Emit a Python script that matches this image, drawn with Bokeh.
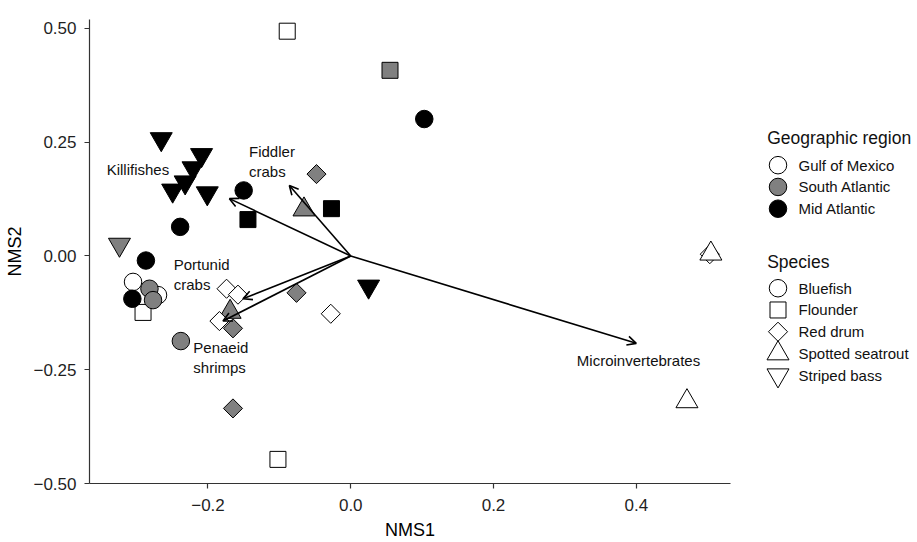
import math
from bokeh.plotting import figure
from bokeh.models import ColumnDataSource, Range1d, FixedTicker, Arrow, OpenHead, CustomJSTickFormatter
from bokeh.layouts import row
from bokeh.core.properties import value
from bokeh.embed import file_html
from bokeh.resources import INLINE

# ---------------- data ----------------
species_names = ["Bluefish", "Flounder", "Red drum", "Spotted seatrout", "Striped bass"]
region_names = ["Gulf of Mexico", "South Atlantic", "Mid Atlantic"]

pt_species = (["Flounder"] * 6 + ["Red drum"] * 6 + ["Spotted seatrout"] * 2 + ["Red drum"] * 3
              + ["Bluefish"] * 10 + ["Striped bass"] * 8 + ["Spotted seatrout"] * 2)
pt_region = ["Gulf of Mexico", "South Atlantic", "Mid Atlantic", "Mid Atlantic", "Gulf of Mexico", "Gulf of Mexico",
             "South Atlantic", "South Atlantic", "Gulf of Mexico", "Gulf of Mexico", "Gulf of Mexico", "South Atlantic",
             "South Atlantic", "South Atlantic",
             "Gulf of Mexico", "South Atlantic", "Gulf of Mexico",
             "Gulf of Mexico", "Gulf of Mexico", "South Atlantic", "South Atlantic", "South Atlantic",
             "Mid Atlantic", "Mid Atlantic", "Mid Atlantic", "Mid Atlantic", "Mid Atlantic",
             "Mid Atlantic", "Mid Atlantic", "Mid Atlantic", "Mid Atlantic", "Mid Atlantic", "Mid Atlantic",
             "Mid Atlantic", "South Atlantic",
             "Gulf of Mexico", "Gulf of Mexico"]
pt_x = [-0.089, 0.055, -0.027, -0.144, -0.291, -0.102,
        -0.048, -0.076, -0.028, -0.174, -0.158, -0.165,
        -0.0655, -0.169,
        -0.184, -0.165, 0.503,
        -0.305, -0.270, -0.282, -0.277, -0.238, -0.306, -0.287, -0.239, -0.150, 0.103,
        -0.2655, -0.209, -0.221, -0.232, -0.2495, -0.201, 0.025, -0.324,
        0.5045, 0.471]
pt_y = [0.494, 0.408, 0.104, 0.080, -0.124, -0.447,
        0.180, -0.081, -0.127, -0.072, -0.085, -0.159,
        0.102, -0.123,
        -0.143, -0.335, 0.004,
        -0.057, -0.086, -0.072, -0.097, -0.187, -0.094, -0.010, 0.064, 0.144, 0.301,
        0.257, 0.222, 0.193, 0.162, 0.144, 0.138, -0.067, 0.025,
        0.005, -0.3195]

vector_names = ["Killifishes", "Fiddler\ncrabs", "Portunid\ncrabs", "Penaeid\nshrimps", "Microinvertebrates"]
vector_x = [-0.170, -0.086, -0.151, -0.179, 0.400]
vector_y = [0.126, 0.155, -0.094, -0.143, -0.192]
vlabel_x = [-0.342, -0.1425, -0.248, -0.2206, 0.3167]
vlabel_y = [0.190, 0.208, -0.0406, -0.2234, -0.229]

x_ticks = [-0.2, 0.0, 0.2, 0.4]
y_ticks = [-0.5, -0.25, 0.0, 0.25, 0.5]

# ---------------- styles ----------------
FONT = "Liberation Sans"
fill_map = {"Gulf of Mexico": "#ffffff", "South Atlantic": "#808080", "Mid Atlantic": "#000000"}
marker_map = {"Bluefish": "circle", "Flounder": "square", "Red drum": "square",
              "Spotted seatrout": "triangle", "Striped bass": "inverted_triangle"}
angle_map = {"Bluefish": 0.0, "Flounder": 0.0, "Red drum": math.pi / 4,
             "Spotted seatrout": 0.0, "Striped bass": 0.0}
size_map = {"Bluefish": 17.5, "Flounder": 16, "Red drum": 13.5,
            "Spotted seatrout": 22, "Striped bass": 22}

src = ColumnDataSource(dict(
    x=pt_x, y=pt_y,
    marker=[marker_map[s] for s in pt_species],
    angle=[angle_map[s] for s in pt_species],
    size=[size_map[s] for s in pt_species],
    fill=[fill_map[r] for r in pt_region],
))

H = 542
TOP, BOTTOM = 19, 58
p = figure(width=743, height=H, output_backend="svg", toolbar_location=None,
           x_range=Range1d(-0.366, 0.532), y_range=Range1d(-0.5, 0.5197),
           min_border_left=89, min_border_right=13, min_border_top=TOP, min_border_bottom=BOTTOM)
p.grid.visible = False
p.outline_line_color = None
p.background_fill_color = "white"
p.border_fill_color = "white"

for ax in (p.xaxis[0], p.yaxis[0]):
    ax.axis_line_color = "#333333"
    ax.axis_line_width = 1.2
    ax.major_tick_line_color = "#333333"
    ax.major_tick_line_width = 1.2
    ax.major_tick_out = 5
    ax.major_tick_in = 0
    ax.minor_tick_line_color = None
    ax.major_label_text_font = FONT
    ax.major_label_text_font_size = "17px"
    ax.major_label_text_color = "#1f1f1f"
    ax.axis_label_text_font = FONT
    ax.axis_label_text_font_size = "18px"
    ax.axis_label_text_font_style = "normal"
    ax.axis_label_text_color = "#000000"

p.xaxis.ticker = FixedTicker(ticks=x_ticks)
p.yaxis.ticker = FixedTicker(ticks=y_ticks)
p.xaxis.formatter = CustomJSTickFormatter(code="return (tick < -1e-9 ? '\u2212' : '') + Math.abs(tick).toFixed(1);")
p.yaxis.formatter = CustomJSTickFormatter(code="return (tick < -1e-9 ? '\u2212' : '') + Math.abs(tick).toFixed(2);")
p.xaxis.axis_label = "NMS1"
p.yaxis.axis_label = "NMS2"
p.xaxis.major_label_standoff = 10
p.xaxis.axis_label_standoff = 6
p.yaxis.major_label_standoff = 8
p.yaxis.axis_label_standoff = 5

p.scatter(x="x", y="y", source=src, marker="marker", size="size", angle="angle",
          fill_color="fill", line_color="black", line_width=1)

asrc = ColumnDataSource(dict(x0=[0.0] * len(vector_x), y0=[0.0] * len(vector_y), x1=vector_x, y1=vector_y))
p.add_layout(Arrow(source=asrc, x_start="x0", y_start="y0", x_end="x1", y_end="y1",
                   line_color="black", line_width=1.6,
                   end=OpenHead(size=9, line_color="black", line_width=1.6)))

p.text(x=vlabel_x, y=vlabel_y, text=vector_names, text_font=value(FONT), text_font_size="15px",
       text_align="left", text_baseline="middle", text_color="#111111", text_line_height=1.2)

# ---------------- legend panel (ranges in page pixels) ----------------
LW = 170
lp = figure(width=LW, height=H, output_backend="svg", toolbar_location=None,
            x_range=Range1d(743, 743 + LW), y_range=Range1d(H - BOTTOM, TOP),
            x_axis_type=None, y_axis_type=None,
            min_border_left=0, min_border_right=0, min_border_top=TOP, min_border_bottom=BOTTOM)
lp.grid.visible = False
lp.outline_line_color = None

title_x, mark_x, lab_x = 766.7, 777.5, 798
step = 21.8
reg_y0 = 165
sp_y0 = 288.3

lp.text(x=[title_x, title_x], y=[138, 261.7], text=["Geographic region", "Species"],
        text_font=value(FONT), text_font_size="17.5px", text_align="left", text_baseline="middle",
        text_color="#111111")

reg_y = [reg_y0 + i * step for i in range(len(region_names))]
lp.scatter(x=[mark_x] * len(region_names), y=reg_y, marker="circle", size=17.5,
           fill_color=[fill_map[r] for r in region_names], line_color="black", line_width=1)
lp.text(x=[lab_x] * len(region_names), y=reg_y, text=region_names, text_font=value(FONT),
        text_font_size="15px", text_align="left", text_baseline="middle", text_color="#111111")

sp_y = [sp_y0 + i * step for i in range(len(species_names))]
lsrc = ColumnDataSource(dict(
    x=[mark_x] * len(species_names), y=sp_y,
    marker=[marker_map[s] for s in species_names],
    angle=[angle_map[s] for s in species_names],
    size=[size_map[s] for s in species_names],
))
lp.scatter(x="x", y="y", source=lsrc, marker="marker", size="size", angle="angle",
           fill_color="white", line_color="black", line_width=1)
lp.text(x=[lab_x] * len(species_names), y=sp_y, text=species_names, text_font=value(FONT),
        text_font_size="15px", text_align="left", text_baseline="middle", text_color="#111111")

layout = row(p, lp, spacing=0)
open("out.html", "w").write(file_html(layout, INLINE))
